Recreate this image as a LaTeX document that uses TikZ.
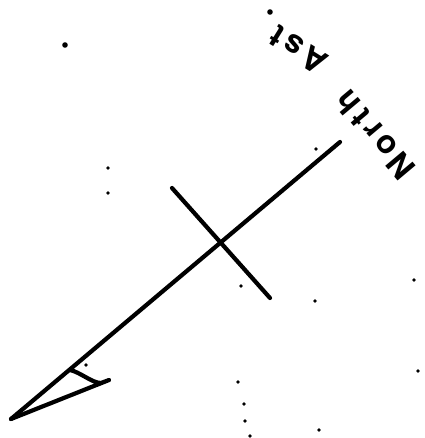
\documentclass[tikz,border=0pt]{standalone}
\usepackage{fontspec}
\setmainfont{TeX Gyre Heros}[LetterSpace=14]
\begin{document}
\begin{tikzpicture}[line width=3pt,line cap=round,line join=round,x=0.025cm,y=-0.025cm]
  \tikzset{lbl/.style={font=\fontsize{23}{23}\selectfont\bfseries}}
  \useasboundingbox (0,0) rectangle (424,438);

  % axis and cross bar
  \coordinate (tip) at (11,419);
  \coordinate (top) at (340,142);
  \coordinate (bar1) at (172,188);
  \coordinate (bar2) at (270,298);
  \draw (tip) -- (top);
  \draw (bar1) -- (bar2);

  % arrow head
  \coordinate (foot) at (70,370);
  \coordinate (wing) at (109,380);
  \draw (foot) .. controls (80,372) and (92,383) .. (101,383) -- (wing) -- (tip);

  % label
  \node[lbl,rotate=130] (north) at (375,135) {North};
  \node[lbl,rotate=148] (ast) at (298,50) {Ast};

  % specks
  \foreach \x/\y in {108/168,108/193,316/149,86/365,241/286,315/301,414/280,
    238/382,244/404,245/421,250/436,319/430,418/371}
    \fill (\x,\y) circle (1.8);
  \foreach \x/\y in {65/45,270/12}
    \fill (\x,\y) circle (2.8);
\end{tikzpicture}
\end{document}
